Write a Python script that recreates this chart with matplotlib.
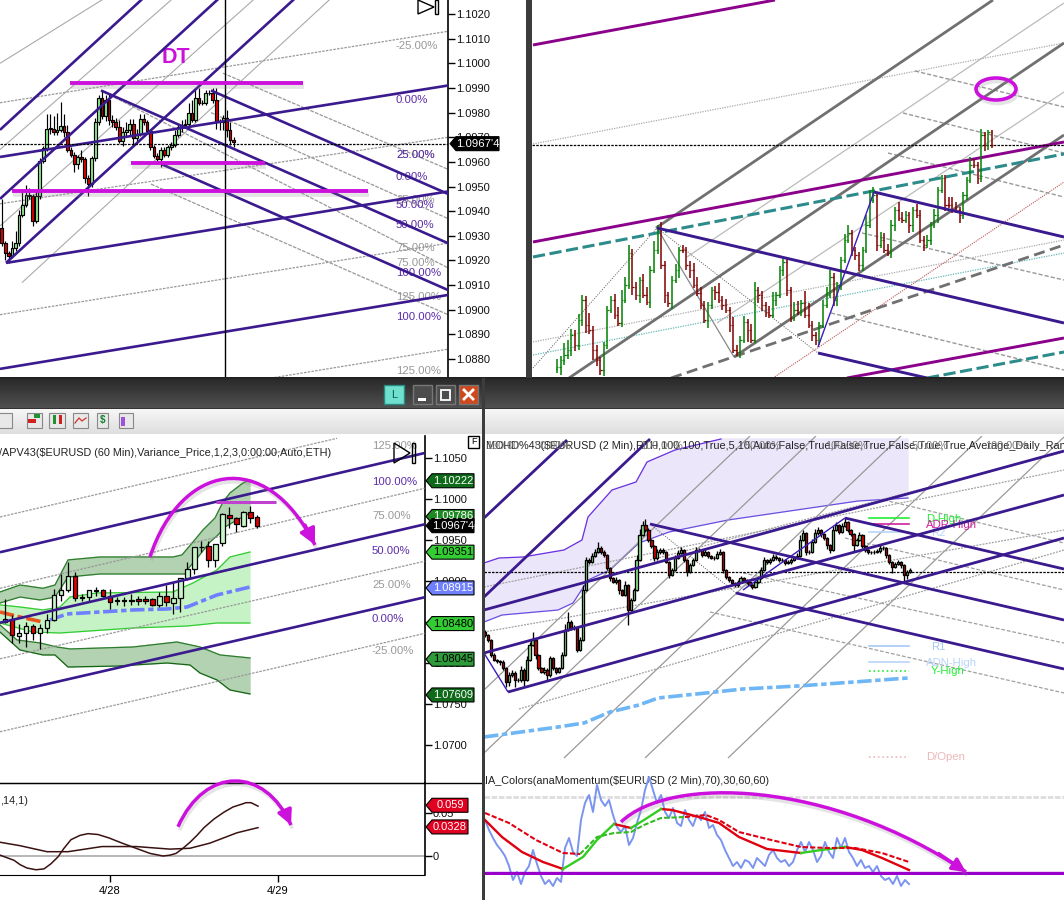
import numpy as np
import matplotlib
matplotlib.use("Agg")
import matplotlib.pyplot as plt
import matplotlib.patheffects as pe
from matplotlib.patches import Ellipse, PathPatch, Polygon, Rectangle
from matplotlib.path import Path

plt.rcParams['font.family'] = ['Liberation Sans', 'DejaVu Sans']

W, H = 1064, 900
PURPLE = '#3a1a8e'
MAGENTA = '#cc11dd'
PCT_GREY = '#999999'
PCT_PURPLE = '#5b2ca8'

# ---- top left: EURUSD candles, closes in pips above 1.0900
tl_close = [27, 23, 22, 25, 27, 38.5, 42.5, 46.5, 46, 36,
            46, 60.5, 65.5, 73.5, 73.5, 72, 73, 74.5, 72, 65,
            63, 59, 62, 61, 53.5, 51, 61.5, 76, 86, 78.5,
            85, 77, 76, 74, 68.5, 72, 73, 75.5, 69.5, 71.5,
            77.5, 76, 72.5, 66, 62.5, 61, 65, 63, 66, 67,
            71, 74, 75, 75.5, 80, 77, 86, 84, 84, 88,
            88, 85, 76.5, 76, 78, 73, 69, 68]
tl_up = [12, 1, 1, 3, 5, 2, 6, 4, 3, 1,
         2, 1, 1, 6, 6, 5, 7, 10, 5, 3,
         1, 1, 1, 3, 1, 1, 1, 2, 1, 3,
         2, 3, 2, 2, 3, 2, 3, 2, 2, 2,
         2, 2, 1, 1, 1, 1, 1, 1, 1, 1,
         2, 1, 2, 2, 4, 5, 3, 4, 1, 1,
         1, 2, 5, 1, 1, 3, 3, 1]
tl_dn = [1, 3, 3, 1, 1, 1, 1, 1, 1, 2,
         1, 1, 1, 1, 2, 1, 1, 1, 2, 1,
         1, 3, 2, 1, 2, 5, 1, 1, 1, 1,
         2, 2, 2, 1, 1, 2, 2, 2, 3, 1,
         1, 1, 1, 1, 1, 2, 3, 1, 1, 1,
         1, 1, 2, 1, 1, 1, 1, 1, 1, 1,
         1, 1, 3, 3, 3, 3, 2, 2]
tl_ticks = [1.0880, 1.0890, 1.0900, 1.0910, 1.0920, 1.0930, 1.0940, 1.0950,
            1.0960, 1.0970, 1.0980, 1.0990, 1.1000, 1.1010, 1.1020]
tl_purple = [(0, 1.0973, 142, 1.1026), (0, 1.0945, 218, 1.1026), (6, 1.0919, 294, 1.1026),
             (0, 1.0962, 448, 1.0991), (6, 1.0919, 448, 1.0948), (0, 1.0876, 448, 1.0906),
             (101, 1.0989, 448, 1.0927), (211, 1.0989, 448, 1.0947), (162, 1.0959, 448, 1.0908)]
tl_grey_rise = [(0, 1.0984, 448, 1.1013), (0, 1.0943, 448, 1.0970),
                (0, 1.0898, 448, 1.0927), (267, 1.0872, 448, 1.0884)]
tl_grey_steep = [(0, 1.1000, 103, 1.1026), (0, 1.0965, 172, 1.1026),
                 (0, 1.0934, 254, 1.1026), (22, 1.0911, 330, 1.1026)]
tl_grey_fall = [(223, 1.0996, 448, 1.0957), (101, 1.0989, 448, 1.0917),
                (151, 1.0951, 448, 1.0898), (211, 1.0980, 448, 1.0937)]
tl_magenta = [(70, 1.0992, 303, 1.0992), (131, 1.09595, 265, 1.09595), (12, 1.0948, 368, 1.0948)]
tl_pct = [('-25.00%', 1.1007, PCT_GREY), ('0.00%', 1.0985, PCT_PURPLE), ('25.00%', 1.0963, PCT_GREY),
          ('25.00%', 1.0963, PCT_PURPLE), ('0.00%', 1.0954, PCT_PURPLE), ('25.00%', 1.09445, PCT_GREY),
          ('50.00%', 1.09425, PCT_PURPLE), ('50.00%', 1.09345, PCT_PURPLE), ('75.00%', 1.0925, PCT_GREY),
          ('75.00%', 1.0919, PCT_GREY), ('100.00%', 1.0915, PCT_PURPLE), ('125.00%', 1.0905, PCT_GREY),
          ('100.00%', 1.0897, PCT_PURPLE), ('125.00%', 1.0875, PCT_GREY)]

# ---- top right: OHLC bars, no price scale shown so values are chart rows
tr_close = [367, 360, 355, 350, 335, 345, 320, 300, 325, 330,
            350, 360, 370, 345, 310, 300, 315, 323, 300, 285,
            253, 287, 295, 280, 295, 302, 270, 250, 230, 265,
            295, 303, 280, 270, 250, 250, 265, 270, 285, 293,
            305, 320, 305, 290, 292, 300, 305, 310, 325, 350,
            352, 340, 322, 330, 340, 290, 295, 305, 312, 315,
            300, 295, 270, 262, 290, 318, 310, 312, 303, 315,
            325, 335, 340, 325, 305, 295, 277, 300, 285, 260,
            240, 233, 250, 255, 265, 250, 225, 200, 195, 245,
            240, 250, 253, 225, 210, 218, 220, 215, 225, 210,
            215, 240, 245, 240, 225, 215, 190, 178, 205, 205,
            210, 210, 215, 195, 180, 165, 165, 178, 135, 145,
            132, 145]
tr_up = [8, 4, 12, 10, 6, 5, 6, 5, 4, 12,
         4, 5, 3, 3, 4, 4, 6, 8, 10, 8,
         8, 4, 5, 3, 6, 8, 4, 9, 5, 8,
         4, 3, 4, 6, 3, 5, 3, 4, 7, 8,
         6, 4, 3, 3, 4, 9, 4, 6, 3, 8,
         5, 4, 6, 3, 6, 8, 3, 4, 3, 6,
         8, 3, 4, 3, 3, 3, 8, 9, 3, 12,
         12, 4, 3, 3, 5, 8, 7, 4, 3, 3,
         6, 8, 3, 3, 3, 3, 10, 10, 8, 3,
         8, 7, 6, 5, 3, 8, 6, 4, 3, 3,
         6, 5, 4, 5, 3, 6, 3, 3, 3, 8,
         8, 8, 3, 3, 3, 8, 6, 3, 6, 3,
         2, 2]
tr_dn = [4, 8, 5, 4, 6, 6, 5, 6, 8, 4,
         10, 6, 5, 6, 4, 3, 4, 3, 4, 3,
         4, 8, 5, 8, 3, 3, 6, 3, 4, 4,
         8, 4, 6, 3, 8, 3, 5, 8, 3, 3,
         4, 3, 8, 4, 8, 3, 5, 3, 7, 3,
         4, 6, 3, 12, 3, 3, 8, 6, 5, 3,
         3, 6, 3, 6, 6, 4, 3, 3, 4, 3,
         3, 6, 5, 5, 3, 3, 3, 6, 6, 5,
         3, 3, 6, 5, 6, 6, 3, 3, 3, 6,
         3, 3, 3, 5, 6, 3, 3, 3, 8, 7,
         3, 3, 6, 3, 5, 3, 8, 3, 6, 3,
         3, 3, 8, 4, 5, 3, 3, 6, 4, 6,
         5, 3]
tr_purple_thick = [(533, 45, 775, 0), (533, 242, 1064, 142), (847, 378, 1064, 338)]
tr_teal_dash = [(533, 257, 1064, 154), (927, 378, 1064, 352)]
tr_grey_thick = [(656, 228, 993, 0), (569, 378, 1064, 43), (734, 357, 1064, 135)]
tr_grey_dash = [(671, 378, 1064, 245)]
tr_fork = [(657, 228, 1064, 323), (874, 192, 1064, 237), (818, 353, 927, 378)]
tr_thin_purple = [(818, 347, 874, 192)]
tr_dotted = [(533, 342, 1064, 240), (533, 144, 1064, 43)]
tr_teal_dot = [(533, 355, 1064, 253)]
tr_red_dot = [(773, 378, 1064, 182)]
tr_thin_steep = [(687, 257, 1064, 3), (717, 323, 1064, 92)]
tr_grey_fall = [(915, 71, 1064, 107), (903, 113, 1064, 153), (888, 153, 1064, 197),
                (862, 233, 1064, 280), (831, 313, 1064, 370)]
tr_black_dot = [(533, 368, 657, 228), (657, 228, 818, 353)]
tr_grey_solid = [(657, 228, 734, 357)]

# ---- bottom left: 60 min candles and bands
bl_open = [1.0850, 1.0854, 1.0833, 1.0837, 1.0845, 1.0836, 1.0843, 1.0852, 1.0883, 1.0889,
           1.0906, 1.0881, 1.0881, 1.0889, 1.0889, 1.0882, 1.0877, 1.0877, 1.0877, 1.0878,
           1.0878, 1.0878, 1.0871, 1.0882, 1.0873, 1.0879, 1.0903, 1.0915, 1.0942, 1.0943,
           1.0926, 1.0946, 1.0981, 1.0977, 1.0967, 1.0984, 1.0978]
bl_close = [1.0854, 1.0834, 1.0837, 1.0845, 1.0837, 1.0843, 1.0852, 1.0883, 1.0889, 1.0906,
            1.0879, 1.0879, 1.0889, 1.0888, 1.0882, 1.0874, 1.0875, 1.0876, 1.0876, 1.0876,
            1.0875, 1.0871, 1.0882, 1.0874, 1.0879, 1.0903, 1.0914, 1.0941, 1.0941, 1.0926,
            1.0945, 1.0982, 1.0977, 1.0969, 1.0984, 1.0977, 1.0967]
bl_high = [1.0878, 1.0858, 1.0848, 1.0850, 1.0848, 1.0848, 1.0860, 1.0890, 1.0909, 1.0923,
           1.0911, 1.0884, 1.0884, 1.0892, 1.0890, 1.0890, 1.0880, 1.0880, 1.0884, 1.0882,
           1.0882, 1.0879, 1.0887, 1.0895, 1.0899, 1.0904, 1.0923, 1.0942, 1.0949, 1.0949,
           1.0945, 1.0983, 1.0990, 1.0978, 1.0985, 1.0991, 1.0980]
bl_low = [1.0849, 1.0824, 1.0824, 1.0819, 1.0828, 1.0817, 1.0836, 1.0851, 1.0876, 1.0886,
          1.0876, 1.0875, 1.0876, 1.0882, 1.0880, 1.0866, 1.0871, 1.0869, 1.0871, 1.0871,
          1.0872, 1.0870, 1.0868, 1.0870, 1.0860, 1.0862, 1.0901, 1.0909, 1.0935, 1.0917,
          1.0917, 1.0943, 1.0965, 1.0960, 1.0966, 1.0971, 1.0964]
bl_ticks = [1.0700, 1.0750, 1.0800, 1.0850, 1.0900, 1.0950, 1.1000, 1.1050]
bl_purple = [(0, 1.0935, 424.5, 1.1056), (0, 1.0849, 424.5, 1.0969), (0, 1.0761, 424.5, 1.0880)]
bl_grey = [(0, 1.0978, 337, 1.1074), (0, 1.0891, 424.5, 1.1013),
           (0, 1.0805, 424.5, 1.0924), (0, 1.0716, 424.5, 1.0836)]
up_band_top_x = [0, 20, 43, 55, 68, 100, 147, 173, 182, 193, 203, 215, 223, 230, 243, 250]
up_band_top = [1.08865, 1.0895, 1.0891, 1.0895, 1.09256, 1.09292, 1.09292, 1.09292,
               1.09317, 1.09475, 1.09622, 1.09768, 1.09963, 1.10073, 1.10195, 1.10232]
up_band_low_x = [0, 20, 40, 55, 68, 100, 140, 185, 187, 198, 210, 218, 225, 237, 250]
up_band_low = [1.08731, 1.08804, 1.08768, 1.08804, 1.09048, 1.09085, 1.09085, 1.09085,
               1.09134, 1.09292, 1.09475, 1.09561, 1.09658, 1.09744, 1.09829]
lo_band_top_x = [0, 17, 40, 57, 70, 133, 177, 200, 220, 250]
lo_band_top = [1.08463, 1.0828, 1.08243, 1.08194, 1.0817, 1.08194, 1.08255, 1.08194, 1.08097, 1.0806]
lo_band_low_x = [0, 20, 43, 55, 68, 117, 167, 190, 200, 217, 230, 250]
lo_band_low = [1.08377, 1.08158, 1.08097, 1.08097, 1.0795, 1.07962, 1.07999, 1.07975,
               1.07877, 1.07792, 1.0767, 1.07621]
mid_top_x = [0, 20, 43, 60, 70, 97, 173, 193, 217, 230, 250]
mid_top = [1.08707, 1.08682, 1.08646, 1.08682, 1.08804, 1.08853, 1.08865, 1.08975, 1.09134, 1.09292, 1.09353]
mid_low_x = [0, 33, 60, 133, 187, 217, 250]
mid_low = [1.08487, 1.08377, 1.08365, 1.08426, 1.0845, 1.08487, 1.08487]
vwap_x = [50, 67, 100, 133, 167, 187, 217, 250]
vwap = [1.08524, 1.08597, 1.08621, 1.08646, 1.08658, 1.08682, 1.08829, 1.08926]
vwap_old_x = [0, 20, 43]
vwap_old = [1.08621, 1.0856, 1.08499]
bl_arc_x = [150, 180, 265, 315]
bl_arc = [1.09292, 1.10415, 1.10659, 1.09439]
bl_pct = [('125.00%', 1.10646, PCT_GREY), ('100.00%', 1.10207, PCT_PURPLE), ('75.00%', 1.09792, PCT_GREY),
          ('50.00%', 1.09365, PCT_PURPLE), ('25.00%', 1.0895, PCT_GREY), ('0.00%', 1.08536, PCT_PURPLE),
          ('-25.00%', 1.08145, PCT_GREY)]
bl_tags = [('1.10222', 1.10222, '#0f6a1a', 'white'), ('1.09786', 1.09786, '#1f8a24', 'white'),
           ('1.09351', 1.09351, '#33cc33', 'black'), ('1.08915', 1.08915, '#6f80ff', 'white'),
           ('1.08480', 1.0848, '#33cc33', 'black'), ('1.08045', 1.08045, '#2e9b3a', 'black'),
           ('1.07609', 1.07609, '#0f6a1a', 'white'), ("1.0967'4", 1.09674, 'black', 'white')]

# ---- bottom left lower pane: oscillator
osc_a_x = [0, 7, 14, 20, 27, 36, 44, 51, 58, 64, 71, 80, 88, 98, 109, 122,
           136, 150, 163, 170, 176, 183, 190, 197, 204, 214, 224, 233, 241, 246, 251, 258]
osc_a = [.001, -.002, -.005, -.010, -.014, -.016, -.015, -.009, -.001, .009, .019, .024, .026, .025, .021, .015,
         .009, .003, 0, .001, .003, .009, .016, .024, .033, .043, .051, .057, .060, .062, .062, .058]
osc_b_x = [0, 20, 47, 68, 102, 136, 170, 190, 210, 237, 258]
osc_b = [.016, .012, .005, .005, .011, .011, .008, .009, .015, .027, .033]
osc_arc_x = [178, 205, 265, 291]
osc_arc = [.034, .1047, .1047, .036]
date_x = [110, 278]
date_labels = ['4/28', '4/29']

# ---- bottom right: 2 min candles, values are chart rows
br_close = [635, 640, 655, 660, 661, 662, 668, 682, 675, 673,
            680, 680, 670, 680, 660, 645, 640, 655, 668, 672,
            670, 675, 658, 668, 672, 668, 655, 630, 622, 628,
            628, 650, 640, 590, 560, 562, 556, 552, 548, 552,
            555, 568, 578, 582, 580, 590, 595, 585, 610, 600,
            590, 560, 535, 525, 530, 540, 546, 558, 552, 550,
            552, 562, 575, 570, 558, 553, 550, 560, 572, 565,
            560, 550, 550, 555, 552, 556, 558, 558, 554, 552,
            570, 577, 580, 583, 585, 582, 578, 580, 582, 585,
            587, 582, 578, 570, 560, 562, 560, 557, 558, 560,
            560, 563, 562, 560, 558, 556, 540, 533, 552, 552,
            542, 533, 530, 534, 538, 545, 550, 530, 525, 532,
            526, 522, 530, 534, 545, 540, 535, 546, 550, 552,
            552, 552, 551, 548, 548, 555, 562, 567, 564, 562,
            565, 575, 572, 570]
br_up = [2, 1, 1, 2, 1, 1, 2, 1, 3, 3,
         2, 2, 4, 2, 4, 3, 8, 1, 1, 1,
         3, 2, 2, 1, 1, 1, 3, 6, 10, 2,
         3, 1, 3, 5, 3, 2, 3, 3, 6, 2,
         2, 1, 1, 1, 3, 1, 1, 4, 1, 2,
         2, 5, 6, 4, 6, 2, 1, 1, 3, 2,
         2, 1, 1, 2, 3, 3, 3, 1, 1, 2,
         2, 3, 2, 1, 4, 1, 1, 2, 3, 3,
         1, 1, 1, 1, 1, 2, 2, 1, 1, 1,
         1, 2, 2, 3, 3, 1, 2, 3, 2, 1,
         2, 1, 2, 2, 2, 3, 5, 3, 1, 2,
         3, 4, 3, 1, 1, 1, 1, 4, 3, 1,
         3, 4, 1, 1, 1, 2, 3, 1, 1, 1,
         1, 2, 2, 3, 2, 1, 1, 1, 2, 2,
         1, 1, 2, 2]
br_dn = [2, 2, 2, 1, 2, 3, 2, 5, 4, 2,
         7, 2, 2, 6, 1, 1, 1, 4, 2, 1,
         2, 5, 2, 2, 2, 1, 1, 1, 1, 2,
         2, 2, 1, 1, 1, 2, 1, 1, 1, 2,
         2, 2, 3, 1, 2, 4, 1, 1, 15, 1,
         1, 1, 1, 1, 2, 2, 2, 3, 2, 2,
         2, 1, 3, 1, 1, 1, 1, 2, 4, 1,
         1, 1, 2, 2, 1, 2, 1, 2, 1, 1,
         3, 2, 2, 1, 2, 2, 1, 2, 2, 1,
         2, 1, 1, 1, 1, 2, 2, 1, 2, 2,
         2, 2, 1, 2, 1, 1, 1, 1, 3, 2,
         1, 1, 2, 3, 2, 4, 3, 1, 1, 2,
         1, 1, 2, 2, 6, 1, 1, 2, 2, 2,
         2, 2, 1, 2, 2, 3, 2, 6, 1, 1,
         3, 6, 4, 1]
br_purple = [(484, 518, 567, 440), (484, 597, 650, 439), (484, 610, 1064, 451), (484, 653, 1064, 495),
             (508, 692, 1064, 538), (650, 524, 1064, 620), (845, 518, 1064, 569), (736, 593, 1064, 669)]
br_thin_purple = [(484, 653, 508, 692), (743, 590, 845, 518)]
br_steep = [(484, 753, 816, 436), (564, 758, 901, 436), (645, 758, 982, 436), (728, 758, 1064, 437),
            (484, 690, 750, 436)]
br_rise_dot = [(484, 587, 1064, 470), (484, 632, 1064, 530), (519, 709, 1064, 550), (650, 560, 1064, 452)]
br_fall_dash = [(710, 612, 1064, 693), (743, 573, 1064, 643), (884, 500, 1064, 543), (845, 538, 1064, 590)]
br_black_dot = [(650, 524, 736, 593)]
cloud_top_x = [484, 499, 523, 564, 582, 588, 612, 636, 647, 675, 721, 908]
cloud_top = [563, 558, 557, 550, 540, 517, 490, 482, 462, 450, 439, 439]
cloud_low_x = [484, 502, 558, 573, 588, 610, 639, 669, 728, 817, 858, 908]
cloud_low = [622, 615, 610, 603, 580, 570, 543, 532, 520, 507, 501, 498]
long_ma_x = [484, 521, 558, 584, 610, 639, 658, 706, 743, 798, 854, 908]
long_ma = [737, 732, 727, 723, 712, 705, 698, 693, 689, 686, 682, 678]
pivot_names = ['D-High', 'ADR-High', 'R2', 'R1', 'ADN-High', 'Y-High', 'D/Open']
pivot_rows = [518, 524, 532, 646, 662, 671, 757]
pivot_label_x = [926, 926, 931, 931, 926, 931, 926]
pivot_colors = ['#22ee33', '#d0209f', '#b8d4f8', '#a6c8f5', '#b8d4f8', '#22ee33', '#eeb8b8']
pivot_styles = ['-', '-', '-', '-', '-', ':', ':']
br_header = 'MOHD%43($EURUSD (2 Min),RTH,100,100,True,5,10,Auto,False,True,False,True,False,True,True,Average_Daily_Range'
br_ghosts = [('100.00%', 486), ('50.00%', 535), ('100.00%', 640), ('50.00%', 745), ('100.00%', 825),
             ('50.00%', 912), ('100.00%', 985)]

# ---- bottom right lower pane: momentum
mom = [820, 830, 838, 845, 850, 856, 866, 880, 872, 884,
       872, 866, 850, 864, 876, 884, 880, 886, 878, 882,
       848, 838, 852, 856, 820, 803, 795, 812, 785, 800,
       806, 800, 815, 827, 832, 826, 845, 838, 823, 810,
       790, 777, 790, 803, 795, 812, 818, 808, 823, 826,
       810, 820, 826, 815, 820, 812, 828, 825, 835, 840,
       850, 858, 866, 862, 868, 860, 862, 868, 858, 862,
       866, 855, 850, 858, 862, 860, 866, 862, 850, 842,
       852, 842, 850, 862, 856, 842, 852, 858, 838, 848,
       838, 852, 858, 866, 860, 868, 866, 872, 866, 876,
       880, 878, 884, 876, 886, 880, 884]
fast_red1_x = [485, 502, 522, 543, 563]
fast_red1 = [820, 837, 852, 862, 869]
fast_green1_x = [563, 583, 597, 614]
fast_green1 = [869, 857, 840, 824]
fast_red2_x = [614, 631]
fast_red2 = [824, 828]
fast_green2_x = [631, 644, 661]
fast_green2 = [828, 820, 809]
fast_red3_x = [661, 672, 699, 719, 739, 767, 801]
fast_red3 = [809, 810, 817, 823, 837, 849, 853]
fast_green3_x = [801, 821, 845]
fast_green3 = [853, 850, 847]
fast_red4_x = [845, 862, 882, 909]
fast_red4 = [847, 850, 858, 870]
slow_red1_x = [485, 509, 536, 563, 580]
slow_red1 = [813, 823, 840, 853, 854]
slow_green1_x = [580, 597, 614, 631, 644, 661, 685]
slow_green1 = [854, 837, 833, 832, 825, 818, 817]
slow_red2_x = [685, 706, 719, 739, 767, 801, 828, 855, 882, 909]
slow_red2 = [817, 815, 820, 832, 839, 847, 848, 848, 853, 862]
br_arc_x = [621, 670, 830, 966]
br_arc = [822, 775, 780, 872]

shadow = [pe.SimpleLineShadow(offset=(1, -2.5), shadow_color='#888888', alpha=0.22), pe.Normal()]


def panel(left, top, right, bottom, xlim, ylim, z=2):
    ax = fig.add_axes([left / W, 1 - bottom / H, (right - left) / W, (bottom - top) / H], zorder=z)
    ax.set_xlim(*xlim)
    ax.set_ylim(*ylim)
    ax.patch.set_alpha(0)
    ax.set_xticks([])
    ax.set_yticks([])
    for s in ax.spines.values():
        s.set_visible(False)
    return ax


def draw_segs(ax, segs, **kw):
    for x0, y0, x1, y1 in segs:
        ax.plot([x0, x1], [y0, y1], solid_capstyle='butt', **kw)


def candles(ax, xs, o, h, l, c, up_col, dn_col, width, lw, inverted=False):
    o, h, l, c = map(np.asarray, (o, h, l, c))
    rising = c < o if inverted else c >= o
    ax.vlines(xs, l, h, color='black', lw=lw, zorder=4)
    bot = np.minimum(o, c)
    size = np.maximum(np.abs(c - o), abs(ax.get_ylim()[1] - ax.get_ylim()[0]) * 0.0005)
    ax.bar(xs, size, width=width, bottom=bot, color=np.where(rising, up_col, dn_col),
           edgecolor='black', linewidth=lw, zorder=5)


def right_axis(ax, ticks):
    ax.spines['right'].set_visible(True)
    ax.spines['right'].set_linewidth(1.2)
    ax.yaxis.tick_right()
    ax.set_yticks(ticks)
    ax.set_yticklabels(['%.4f' % t for t in ticks], fontsize=8, color='#111111')
    ax.tick_params(axis='y', length=5, width=1, pad=1)


def to_row(ax, value):
    return H - ax.transData.transform((0, value))[1]


def tag(ax, value, label, bg, fg, x0, x1, fs=8):
    row = to_row(ax, value)
    over.add_patch(Polygon([(x0, row), (x0 + 6, row - 7), (x1, row - 7), (x1, row + 7), (x0 + 6, row + 7)],
                           fc=bg, ec='black', lw=0.8, zorder=6))
    over.text((x0 + x1) / 2 + 3, row, label, color=fg, fontsize=fs, ha='center', va='center', zorder=7)


def arc(ax, xs, ys, head, z=8):
    # freehand arrow on the chart: one cubic curve, arrow head on its end
    curve = Path(list(zip(xs, ys)), [Path.MOVETO, Path.CURVE4, Path.CURVE4, Path.CURVE4])
    ax.add_patch(PathPatch(curve, fill=False, ec=MAGENTA, lw=2.5, capstyle='butt', clip_on=False,
                           path_effects=shadow, zorder=z))
    tail = (xs[2] + 0.8 * (xs[3] - xs[2]), ys[2] + 0.8 * (ys[3] - ys[2]))
    ax.annotate('', xy=(xs[3], ys[3]), xytext=tail, zorder=z, annotation_clip=False,
                arrowprops=dict(arrowstyle='-|>', color=MAGENTA, lw=2.4, mutation_scale=head, shrinkA=0, shrinkB=0))


fig = plt.figure(figsize=(W / 100, H / 100), dpi=100, facecolor='white')

chrome = fig.add_axes([0, 0, 1, 1], zorder=0)
chrome.set_xlim(0, W)
chrome.set_ylim(H, 0)
chrome.axis('off')
over = fig.add_axes([0, 0, 1, 1], zorder=6)
over.set_xlim(0, W)
over.set_ylim(H, 0)
over.axis('off')
over.patch.set_alpha(0)

# ---- top left
tl = panel(0, 0, 448, 378, (0, 448), (1.08723, 1.10257))
right_axis(tl, tl_ticks)
draw_segs(tl, tl_grey_steep, color='#aaaaaa', lw=0.8)
draw_segs(tl, tl_grey_rise, color='#999999', lw=0.9, ls=(0, (2, 1)))
draw_segs(tl, tl_grey_fall, color='#999999', lw=0.9, ls=(0, (3, 1)))
tl_c = 1.09 + np.array(tl_close) / 1e4
tl_o = np.r_[1.0933, tl_c[:-1]]
tl_h = np.maximum(tl_o, tl_c) + np.array(tl_up) / 1e4
tl_l = np.minimum(tl_o, tl_c) - np.array(tl_dn) / 1e4
tl_x = 1.7 + 3.46 * np.arange(len(tl_c))
candles(tl, tl_x, tl_o, tl_h, tl_l, tl_c, '#90ee90', '#e00000', 2.8, 0.85)
draw_segs(tl, tl_purple, color=PURPLE, lw=1.9, zorder=6)
tl.axhline(1.09674, color='black', lw=0.9, ls=(0, (2, 1)), zorder=6)
tl.axvline(224.8, color='black', lw=1, zorder=6)
for x0, y0, x1, y1 in tl_magenta:
    tl.plot([x0, x1], [y0, y1], color=MAGENTA, lw=2.8, solid_capstyle='butt', path_effects=shadow, zorder=7)
tl.text(176, 1.0998, 'DT', color=MAGENTA, fontsize=15.5, fontweight='bold', ha='center', va='bottom')
for label, y, col in tl_pct:
    tl.text(396, y, label, color=col, fontsize=8.2, va='center', zorder=3)
tag(tl, 1.09674, "1.0967'4", 'black', 'white', 450, 499, 8.2)

# ---- top right
tr = panel(532, 0, 1064, 378, (532, 1064), (378, 0))
draw_segs(tr, tr_dotted, color='#aaaaaa', lw=0.9, ls=(0, (1, 1)))
draw_segs(tr, tr_teal_dot, color='#66b8b8', lw=0.9, ls=(0, (1, 1)))
draw_segs(tr, tr_red_dot, color='#bb5555', lw=0.8, ls=(0, (1, 1)))
draw_segs(tr, tr_thin_steep, color='#bbbbbb', lw=0.9)
draw_segs(tr, tr_grey_fall, color='#999999', lw=1, ls=(0, (3, 1.5)))
draw_segs(tr, tr_black_dot, color='#555555', lw=0.7, ls=(0, (1, 1.5)))
draw_segs(tr, tr_grey_solid, color='#888888', lw=0.9)
draw_segs(tr, tr_grey_thick, color='#707070', lw=2)
draw_segs(tr, tr_grey_dash, color='#707070', lw=2, ls=(0, (4, 2)))
draw_segs(tr, tr_purple_thick, color='#8b008b', lw=2.1)
draw_segs(tr, tr_teal_dash, color='#2e8b8b', lw=2.2, ls=(0, (4, 1.5)))
tr.axhline(145, color='black', lw=0.9, ls=(0, (2, 1)))
tr_c = np.array(tr_close)
tr_o = np.r_[369, tr_c[:-1]]
tr_x = np.linspace(557, 992, len(tr_c))
tr_hi = np.minimum(tr_o, tr_c) - np.array(tr_up)
tr_lo = np.maximum(tr_o, tr_c) + np.array(tr_dn)
tr_col = np.where(tr_c < tr_o, '#008000', '#800000')
tr.vlines(tr_x, tr_lo, tr_hi, colors=tr_col, lw=1.1, zorder=4)
tr.hlines(tr_o, tr_x - 1.4, tr_x, colors=tr_col, lw=0.9, zorder=4)
tr.hlines(tr_c, tr_x, tr_x + 1.4, colors=tr_col, lw=0.9, zorder=4)
draw_segs(tr, tr_thin_purple, color='#3a1ac0', lw=1, zorder=5)
draw_segs(tr, tr_fork, color=PURPLE, lw=2.1, zorder=5)
tr.add_patch(Ellipse((996, 89), 40, 22, fill=False, ec=MAGENTA, lw=2.6, zorder=7, path_effects=shadow))

# ---- bottom left
bl = panel(0, 436, 424.5, 783, (0, 424.5), (1.06535, 1.10768))
right_axis(bl, bl_ticks)
bl.fill(np.r_[up_band_top_x, up_band_low_x[::-1]], np.r_[up_band_top, up_band_low[::-1]], color='#b2d2b2', zorder=1)
bl.plot(up_band_top_x, up_band_top, color='#2e7d2e', lw=0.9, zorder=2)
bl.plot(up_band_low_x, up_band_low, color='#2e7d2e', lw=0.9, zorder=2)
bl.fill(np.r_[lo_band_top_x, lo_band_low_x[::-1]], np.r_[lo_band_top, lo_band_low[::-1]], color='#b2d2b2', zorder=1)
bl.plot(lo_band_top_x, lo_band_top, color='#2e7d2e', lw=0.9, zorder=2)
bl.plot(lo_band_low_x, lo_band_low, color='#146614', lw=0.9, zorder=2)
bl.fill(np.r_[mid_top_x, mid_low_x[::-1]], np.r_[mid_top, mid_low[::-1]], color='#c6f3c6', zorder=1)
bl.plot(mid_top_x, mid_top, color='#33cc33', lw=0.9, zorder=2)
bl.plot(mid_low_x, mid_low, color='#33cc33', lw=0.9, zorder=2)
bl.plot(vwap_x, vwap, color='#6f80ff', lw=2.6, ls=(0, (4, 1, 1.5, 1)), zorder=3)
bl.plot(vwap_old_x, vwap_old, color='#e8561e', lw=2.6, ls=(0, (4, 1, 1.5, 1)), zorder=3)
draw_segs(bl, bl_grey, color='#999999', lw=0.9, ls=(0, (2, 1)), zorder=3)
bl_x = 5.3 + 7 * np.arange(len(bl_close))
candles(bl, bl_x, bl_open, bl_high, bl_low, bl_close, '#c8f5c8', '#e00000', 4.4, 0.9)
draw_segs(bl, bl_purple, color=PURPLE, lw=1.9, zorder=6)
bl.plot([216, 276], [1.09963, 1.09963], color='#c040d0', lw=2.2, solid_capstyle='butt', zorder=7)
arc(bl, bl_arc_x, bl_arc, 24)
for label, y, col in bl_pct:
    bl.text(372, y, label, color=col, fontsize=8.2, va='center', zorder=3)
bl.text(-1, 1.1056, '/APV43($EURUSD (60 Min),Variance_Price,1,2,3,0:00:00,Auto,ETH)', fontsize=7.85,
        color='#222222', va='center')
for label, y, bg, fg in bl_tags:
    tag(bl, y, label, bg, fg, 426, 474)

# ---- bottom left lower pane
osc = panel(0, 783, 424.5, 875, (0, 424.5), (-0.0221, 0.0849))
right_axis(osc, [0, 0.05])
osc.set_yticklabels(['0', '0.05'], fontsize=8)
osc.spines['bottom'].set_visible(True)
osc.spines['top'].set_visible(True)
osc.set_xticks(date_x)
osc.set_xticklabels(date_labels, fontsize=8)
osc.tick_params(axis='x', length=5, width=1, pad=3)
osc.axhline(0, color='#aaaaaa', lw=1.2)
osc.plot(osc_a_x, osc_a, color='#3b1212', lw=1.1)
osc.plot(osc_b_x, osc_b, color='#3b1212', lw=1.1)
arc(osc, osc_arc_x, osc_arc, 22)
osc.text(0, 0.064, ',14,1)', fontsize=7.8, color='#222222', va='center')
tag(osc, 0.059, '0.059', '#e00020', 'white', 426, 468)
tag(osc, 0.0338, '0.0328', '#e00020', 'white', 426, 468)
chrome.plot([0, 484], [783, 783], color='black', lw=1)

# ---- bottom right
br = panel(484, 436, 1064, 763, (484, 1064), (763, 436))
grid_x = np.r_[cloud_top_x, cloud_low_x[::-1]]
br.fill(grid_x, np.r_[cloud_top, cloud_low[::-1]], color='#ebe6fa', zorder=1)
br.plot(cloud_top_x[:-1], cloud_top[:-1], color='#6a30e0', lw=0.9, zorder=2)
br.plot(cloud_low_x, cloud_low, color='#6a50e0', lw=0.9, zorder=2)
draw_segs(br, br_steep, color='#999999', lw=0.9, zorder=2)
draw_segs(br, br_rise_dot, color='#a0a0a0', lw=0.9, ls=(0, (1.5, 1)), zorder=2)
draw_segs(br, br_fall_dash, color='#a0a0a0', lw=0.9, ls=(0, (3, 1.5)), zorder=2)
draw_segs(br, br_black_dot, color='#555555', lw=0.7, ls=(0, (1, 1.5)), zorder=2)
br.axhline(571.5, color='black', lw=0.9, ls=(0, (2, 1)), zorder=3)
br.plot(long_ma_x, long_ma, color='#6eb6f5', lw=2.6, ls=(0, (4, 1, 1.5, 1)), zorder=3)
br_c = np.array(br_close)
br_o = np.r_[632, br_c[:-1]]
br_hi = np.minimum(br_o, br_c) - np.array(br_up)
br_lo = np.maximum(br_o, br_c) + np.array(br_dn)
br_x = np.linspace(485, 910, len(br_c))
candles(br, br_x, br_o, br_hi, br_lo, br_c, '#90ee90', '#e00000', 2.2, 0.95, inverted=True)
draw_segs(br, br_thin_purple, color='#3a1ac0', lw=1, zorder=6)
draw_segs(br, br_purple, color=PURPLE, lw=2, zorder=6)
for name, row, lx, col, st in zip(pivot_names, pivot_rows, pivot_label_x, pivot_colors, pivot_styles):
    br.plot([869, 909], [row, row], color=col, lw=1.2, ls=st, zorder=3)
    br.text(lx, row + 0.5, name, color=col, fontsize=8.2, va='center', zorder=3, clip_on=True)
br.text(486, 446, br_header, fontsize=7.85, color='#222222', va='center', clip_on=True, zorder=8)
for label, x in br_ghosts:
    br.text(x, 446, label, fontsize=7.85, color='#777777', va='center', clip_on=True, zorder=8)

# ---- bottom right lower pane
lo = panel(484, 763, 1064, 875, (484, 1064), (875, 763))
lo.axhline(797, color='#dddddd', lw=2, ls=(0, (2, 0.6)))
mom_x = np.linspace(485, 909, len(mom))
lo.plot(mom_x, mom, color='#7a94f0', lw=1.4, clip_on=False, zorder=4)
lo.axhline(873, color='#9900cc', lw=2.4, zorder=5)
for xs, ys in [(fast_red1_x, fast_red1), (fast_red2_x, fast_red2), (fast_red3_x, fast_red3), (fast_red4_x, fast_red4)]:
    lo.plot(xs, ys, color='#e00010', lw=1.7, zorder=5)
for xs, ys in [(fast_green1_x, fast_green1), (fast_green2_x, fast_green2), (fast_green3_x, fast_green3)]:
    lo.plot(xs, ys, color='#33cc22', lw=1.7, zorder=5)
for xs, ys in [(slow_red1_x, slow_red1), (slow_red2_x, slow_red2)]:
    lo.plot(xs, ys, color='#e00010', lw=1.5, ls=(0, (2.5, 1)), zorder=5)
lo.plot(slow_green1_x, slow_green1, color='#33bb22', lw=1.5, ls=(0, (2.5, 1)), zorder=5)
arc(lo, br_arc_x, br_arc, 20, z=7)
lo.text(485, 781, 'IA_Colors(anaMomentum($EURUSD (2 Min),70),30,60,60)', fontsize=7.8, color='#222222', va='center')

# ---- window chrome
def gradient(x0, x1, y0, y1, c0, c1):
    c0, c1 = matplotlib.colors.to_rgb(c0), matplotlib.colors.to_rgb(c1)
    ramp = np.linspace(0, 1, 32)[:, None, None]
    img = np.array(c0)[None, None, :] * (1 - ramp) + np.array(c1)[None, None, :] * ramp
    over.imshow(img, extent=(x0, x1, y1, y0), aspect='auto', zorder=3)


gradient(0, 1064, 379, 408, '#2a2a2a', '#505050')
gradient(0, 1064, 408, 434, '#f8f8f8', '#dedede')
over.set_xlim(0, W)
over.set_ylim(H, 0)
over.add_patch(Rectangle((0, 377), 1064, 2, fc='#222222', ec='none', zorder=4))
over.add_patch(Rectangle((0, 407.5), 1064, 1, fc='#333333', ec='none', zorder=4))
over.add_patch(Rectangle((525.5, 0), 6, 378, fc='#3c3c3c', ec='none', zorder=4))
over.add_patch(Rectangle((481.5, 378), 3, 522, fc='#3c3c3c', ec='none', zorder=4))
over.add_patch(Rectangle((384, 385), 20, 19, fc='#6fdfce', ec='#2a8a80', lw=1, zorder=5))
over.text(394, 395, 'L', fontsize=8, color='#0a5a50', ha='center', va='center', zorder=6)
for bx, fc in [(413, '#4c4c4c'), (436, '#4c4c4c'), (459, '#d0481e')]:
    over.add_patch(Rectangle((bx, 385), 19, 19, fc=fc, ec='#777777', lw=1, zorder=5))
over.add_patch(Rectangle((418, 398), 8, 2.5, fc='white', ec='none', zorder=6))
over.add_patch(Rectangle((441, 389.5), 9, 10, fc='none', ec='white', lw=1.3, zorder=6))
over.plot([464, 473], [390, 399], color='white', lw=2, zorder=6)
over.plot([464, 473], [399, 390], color='white', lw=2, zorder=6)
for bx, bw in [(-2, 14), (27, 15), (49, 16), (73, 15), (97, 11), (119, 14)]:
    over.add_patch(Rectangle((bx, 412.5), bw, 15, fc='#e8e8e8', ec='#888888', lw=0.8, zorder=5))
over.add_patch(Rectangle((28, 419), 8, 4, fc='#d02020', ec='none', zorder=6))
over.add_patch(Rectangle((34, 414), 6, 4, fc='#209030', ec='none', zorder=6))
over.add_patch(Rectangle((53, 415), 3, 9, fc='#209030', ec='none', zorder=6))
over.add_patch(Rectangle((59, 415), 3, 9, fc='#d02020', ec='none', zorder=6))
over.plot([75, 79, 82, 86], [423, 418, 421, 418], color='#d03030', lw=0.9, zorder=6)
over.text(102.5, 420, '$', fontsize=7, color='#108030', ha='center', va='center', zorder=6, fontweight='bold')
over.add_patch(Rectangle((121, 417), 4, 9, fc='#a050e0', ec='none', zorder=6))

# play icons and the F box
for x0, x1, bar, y0, y1 in [(418, 434, 435, 0, 14), (394, 410, 412, 443, 463)]:
    over.add_patch(Polygon([(x0, y0), (x1, (y0 + y1) / 2), (x0, y1)], fill=False, ec='black', lw=1, zorder=5))
    over.add_patch(Rectangle((bar, y0), 3, y1 - y0, fill=False, ec='black', lw=1, zorder=5))
over.add_patch(Rectangle((468, 436), 11, 12, fc='white', ec='black', lw=1, zorder=5))
over.text(473.5, 442, 'F', fontsize=6.5, ha='center', va='center', zorder=6)

fig.savefig('out.png', dpi=100)
